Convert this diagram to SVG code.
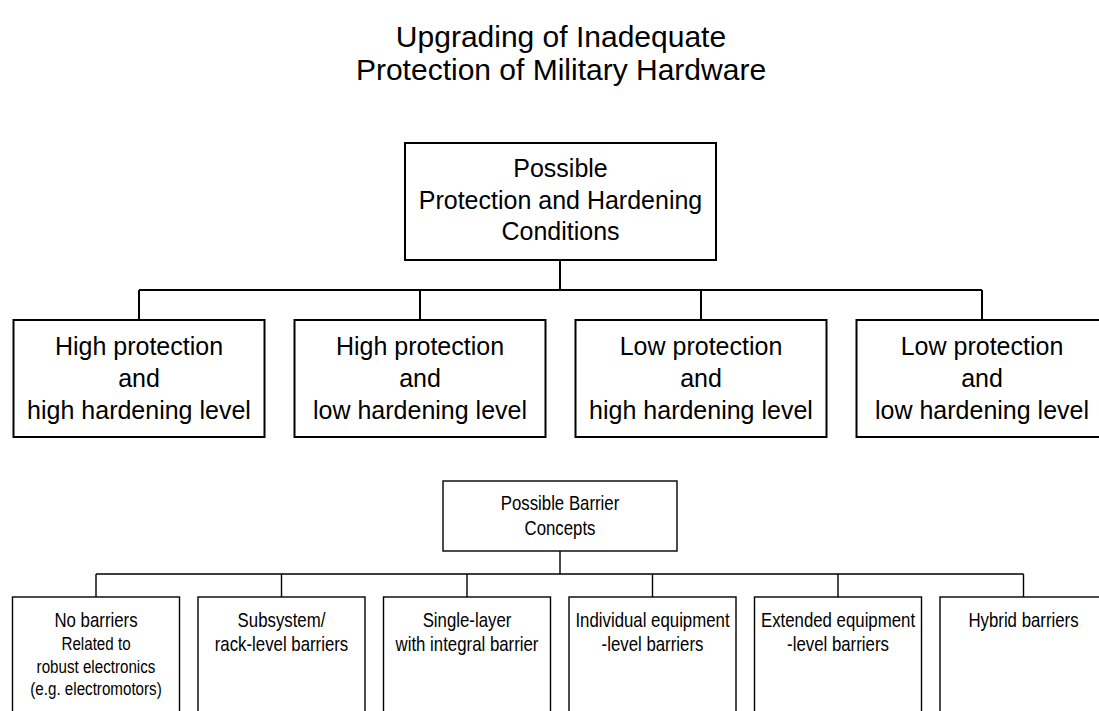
<svg xmlns="http://www.w3.org/2000/svg" width="1099" height="711" viewBox="0 0 1099 711">
  <style>
    .box { fill: #ffffff; stroke: #000000; stroke-width: 2; }
    .box-thin { fill: #ffffff; stroke: #000000; stroke-width: 1.4; }
    .wire { fill: none; stroke: #000000; stroke-width: 2; }
    .wire-thin { fill: none; stroke: #000000; stroke-width: 1.4; }
    text { font-family: "Liberation Sans", Arial, sans-serif; fill: #000000; text-anchor: middle; }
    .title { font-size: 30px; }
    .big { font-size: 25px; }
    /* condensed lettering: regular sans squeezed horizontally */
    .narrow { font-size: 20.5px; }
    .narrow-sm { font-size: 18.5px; }
  </style>

  <rect width="1099" height="711" fill="#ffffff"/>

  <!-- heading -->
  <g id="title">
    <text class="title" x="561" y="47">Upgrading of Inadequate</text>
    <text class="title" x="561" y="80">Protection of Military Hardware</text>
  </g>

  <!-- connectors -->
  <g id="connectors">
    <!-- upper tree -->
    <path class="wire" d="M560 260 V290 M139 290 H982 M139 290 V320 M420 290 V320 M701 290 V320 M982 290 V320"/>
    <!-- lower tree -->
    <path class="wire-thin" d="M560 551 V574 M96 574 H1023.5 M96 574 V597 M281.5 574 V597 M467 574 V597 M652.5 574 V597 M838 574 V597 M1023.5 574 V597"/>
  </g>

  <!-- upper tree nodes -->
  <g id="conditions">
    <rect class="box" x="405" y="143" width="311" height="117"/>
    <text class="big" x="560.5" y="177">Possible</text>
    <text class="big" x="560.5" y="208.5">Protection and Hardening</text>
    <text class="big" x="560.5" y="240">Conditions</text>
  </g>

  <g id="hp-hh">
    <rect class="box" x="13.5" y="320" width="251" height="117"/>
    <text class="big" x="139" y="355">High protection</text>
    <text class="big" x="139" y="387">and</text>
    <text class="big" x="139" y="419">high hardening level</text>
  </g>

  <g id="hp-lh">
    <rect class="box" x="294.5" y="320" width="251" height="117"/>
    <text class="big" x="420" y="355">High protection</text>
    <text class="big" x="420" y="387">and</text>
    <text class="big" x="420" y="419">low hardening level</text>
  </g>

  <g id="lp-hh">
    <rect class="box" x="575.5" y="320" width="251" height="117"/>
    <text class="big" x="701" y="355">Low protection</text>
    <text class="big" x="701" y="387">and</text>
    <text class="big" x="701" y="419">high hardening level</text>
  </g>

  <g id="lp-lh">
    <rect class="box" x="856.5" y="320" width="251" height="117"/>
    <text class="big" x="982" y="355">Low protection</text>
    <text class="big" x="982" y="387">and</text>
    <text class="big" x="982" y="419">low hardening level</text>
  </g>

  <!-- lower tree nodes -->
  <g id="barrier-concepts">
    <rect class="box-thin" x="443" y="481" width="234" height="70"/>
    <text class="narrow" transform="translate(560 510) scale(0.82 1)">Possible Barrier</text>
    <text class="narrow" transform="translate(560 535) scale(0.82 1)">Concepts</text>
  </g>

  <g id="no-barriers">
    <rect class="box-thin" x="12.5" y="597" width="167" height="130"/>
    <text class="narrow" transform="translate(96 627) scale(0.82 1)">No barriers</text>
    <text class="narrow-sm" transform="translate(96 650) scale(0.82 1)">Related to</text>
    <text class="narrow-sm" transform="translate(96 672.5) scale(0.82 1)">robust electronics</text>
    <text class="narrow-sm" transform="translate(96 695) scale(0.82 1)">(e.g. electromotors)</text>
  </g>

  <g id="rack-level">
    <rect class="box-thin" x="198" y="597" width="167" height="130"/>
    <text class="narrow" transform="translate(281.5 627) scale(0.82 1)">Subsystem/</text>
    <text class="narrow" transform="translate(281.5 651) scale(0.82 1)">rack-level barriers</text>
  </g>

  <g id="single-layer">
    <rect class="box-thin" x="383.5" y="597" width="167" height="130"/>
    <text class="narrow" transform="translate(467 627) scale(0.82 1)">Single-layer</text>
    <text class="narrow" transform="translate(467 651) scale(0.82 1)">with integral barrier</text>
  </g>

  <g id="individual-equipment">
    <rect class="box-thin" x="569" y="597" width="167" height="130"/>
    <text class="narrow" transform="translate(652.5 627) scale(0.82 1)">Individual equipment</text>
    <text class="narrow" transform="translate(652.5 651) scale(0.82 1)">-level barriers</text>
  </g>

  <g id="extended-equipment">
    <rect class="box-thin" x="754.5" y="597" width="167" height="130"/>
    <text class="narrow" transform="translate(838 627) scale(0.82 1)">Extended equipment</text>
    <text class="narrow" transform="translate(838 651) scale(0.82 1)">-level barriers</text>
  </g>

  <g id="hybrid">
    <rect class="box-thin" x="940" y="597" width="167" height="130"/>
    <text class="narrow" transform="translate(1023.5 627) scale(0.82 1)">Hybrid barriers</text>
  </g>
</svg>
